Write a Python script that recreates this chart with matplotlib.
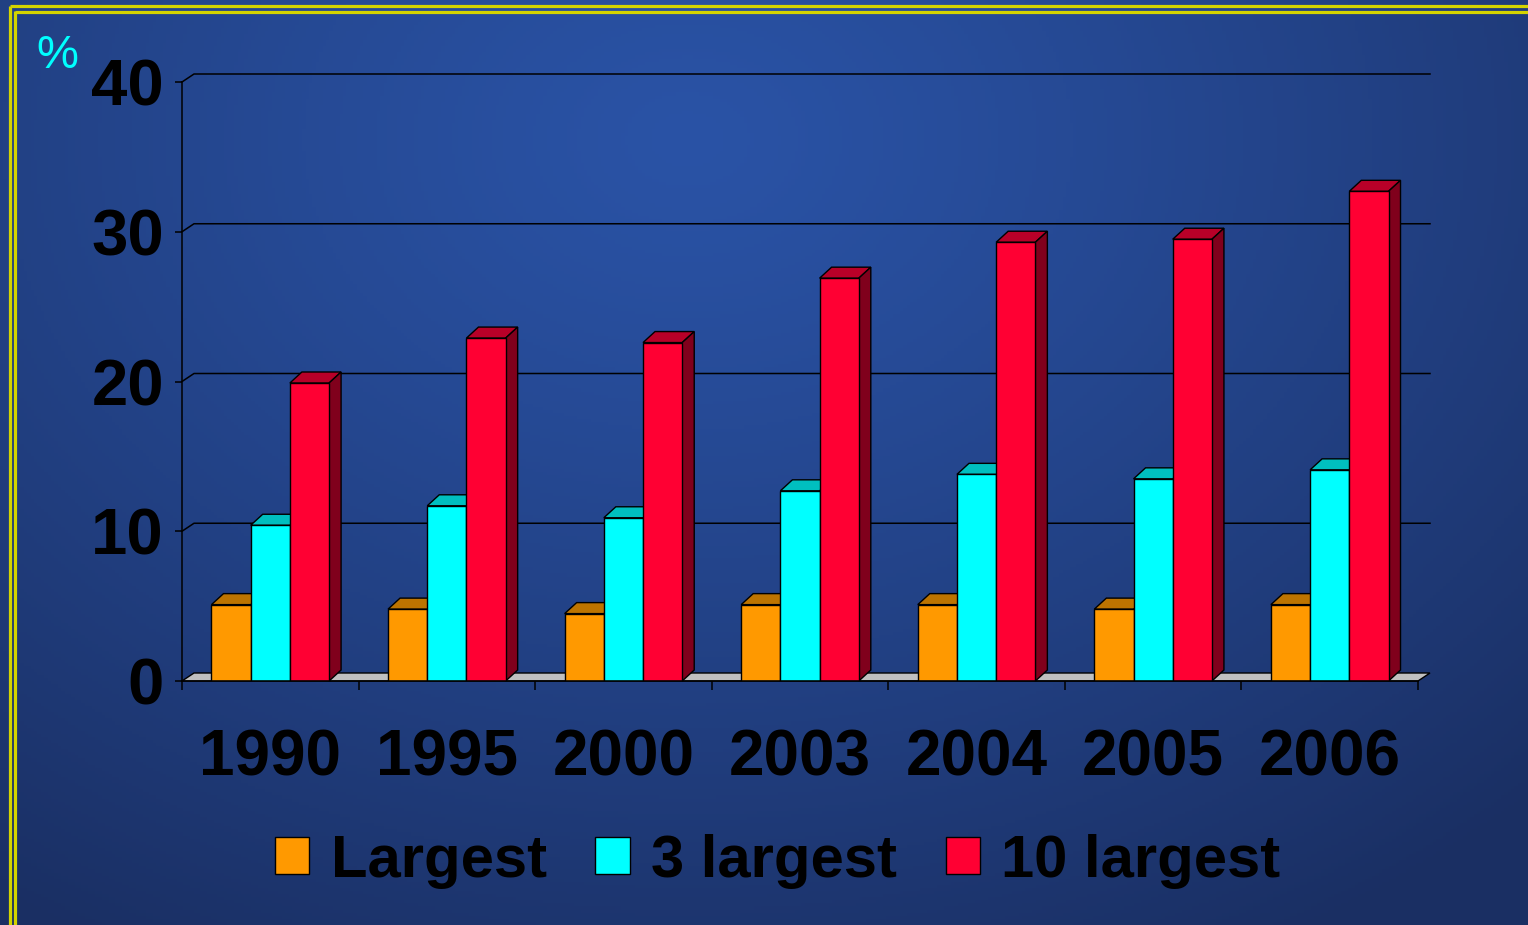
import numpy as np
import matplotlib
matplotlib.use('Agg')
import matplotlib.pyplot as plt
from matplotlib.patches import Polygon, Patch
from matplotlib.lines import Line2D

# ---------------- data ----------------
years = ['1990', '1995', '2000', '2003', '2004', '2005', '2006']
largest = [5.1, 4.8, 4.5, 5.1, 5.1, 4.8, 5.1]
largest3 = [10.4, 11.7, 10.9, 12.7, 13.8, 13.5, 14.1]
largest10 = [19.9, 22.9, 22.6, 26.9, 29.3, 29.5, 32.7]
series_names = ['Largest', '3 largest', '10 largest']
yticks = [0, 10, 20, 30, 40]
unit_label = '%'

# ---------------- style ----------------
front_colors = ['#FF9900', '#00FFFF', '#FF0033']
top_colors = ['#BD7400', '#00BFBF', '#B80028']
side_color = '#80001C'
floor_color = '#C0C0C0'
border_color = '#D4D400'
num_font = ['Liberation Sans', 'DejaVu Sans']
leg_font = ['Liberation Sans', 'DejaVu Sans']

W, H = 1528, 925
fig = plt.figure(figsize=(W / 100, H / 100), dpi=100)

# background gradient
bg = fig.add_axes([0, 0, 1, 1], zorder=-10)
yy, xx = np.mgrid[0:1:300j, 0:1:450j]
d = np.sqrt(((xx - 0.45) / 0.8) ** 2 + ((yy - 0.15) / 1.0) ** 2)
d = np.clip(d, 0, 1) ** 1.2
c0 = np.array([0x2A, 0x53, 0xA6]) / 255
c1 = np.array([0x1A, 0x2F, 0x63]) / 255
img = c0[None, None, :] * (1 - d[..., None]) + c1[None, None, :] * d[..., None]
bg.imshow(img, extent=[0, 1, 0, 1], origin='upper', aspect='auto')
bg.axis('off')

# yellow double border (top and left)
for xp in (9.5, 14.5):
    fig.add_artist(Line2D([xp / W, xp / W], [0, 1 - (xp - 3.5) / H],
                          transform=fig.transFigure, color=border_color, lw=2.3,
                          solid_capstyle='butt'))
for yp in (6.0, 11.5):
    fig.add_artist(Line2D([(yp + 3.5) / W, 1], [1 - yp / H, 1 - yp / H],
                          transform=fig.transFigure, color=border_color, lw=2.3,
                          solid_capstyle='butt'))

# main axes = front plane
L, R, T, B = 182, 1418, 82, 681
ax = fig.add_axes([L / W, (H - B) / H, (R - L) / W, (B - T) / H])
ax.patch.set_alpha(0)
n = len(years)
ax.set_xlim(0, n)
ax.set_ylim(yticks[0], yticks[-1])

px_x = (R - L) / n
px_y = (B - T) / (yticks[-1] - yticks[0])
dxw, dyw = 12 / px_x, 8 / px_y      # wall depth
dxb, dyb = 12 / px_x, 11 / px_y     # bar depth

# back wall gridlines
for v in yticks[1:]:
    ax.plot([0, dxw, n + dxw], [v, v + dyw, v + dyw], color='black', lw=1.1,
            clip_on=False, zorder=1)
# floor
ax.add_patch(Polygon([(0, 0), (n, 0), (n + dxw, dyw), (dxw, dyw)], closed=True,
                     fc=floor_color, ec='black', lw=1.0, clip_on=False, zorder=1.5))

# bars
w = 0.222
offsets = [-w, 0, w]
for j, vals in enumerate([largest, largest3, largest10]):
    x = np.arange(n) + 0.5 + offsets[j]
    bars = ax.bar(x, vals, width=w, color=front_colors[j], edgecolor='black',
                  lw=1.0, zorder=3, label=series_names[j])
    for rect in bars:
        x0 = rect.get_x()
        x1 = x0 + rect.get_width()
        h = rect.get_height()
        ax.add_patch(Polygon([(x0, h), (x1, h), (x1 + dxb, h + dyb), (x0 + dxb, h + dyb)],
                             closed=True, fc=top_colors[j], ec='black', lw=1.0,
                             clip_on=False, zorder=2))
        if j == 2:
            ax.add_patch(Polygon([(x1, 0), (x1 + dxb, dyb), (x1 + dxb, h + dyb), (x1, h)],
                                 closed=True, fc=side_color, ec='black', lw=1.0,
                                 clip_on=False, zorder=2))

# spines and ticks
for s in ('top', 'right'):
    ax.spines[s].set_visible(False)
for s in ('left', 'bottom'):
    ax.spines[s].set_color('black')
    ax.spines[s].set_linewidth(1.1)
    ax.spines[s].set_zorder(4)

ax.set_yticks(yticks)
ax.set_yticklabels([str(v) for v in yticks])
ax.tick_params(axis='y', length=5, width=1.1, pad=8, colors='black')
ax.set_xticks(np.arange(n + 1))
ax.set_xticklabels([])
ax.tick_params(axis='x', which='major', length=6.5, width=1.1, colors='black')
ax.set_xticks(np.arange(n) + 0.5, minor=True)
ax.set_xticklabels(years, minor=True)
ax.tick_params(axis='x', which='minor', length=0, pad=34)

for lbl in ax.get_yticklabels():
    lbl.set_fontfamily(num_font)
    lbl.set_fontweight('bold')
    lbl.set_fontsize(47)
    lbl.set_color('black')
for lbl in ax.get_xticklabels(minor=True):
    lbl.set_fontfamily(num_font)
    lbl.set_fontweight('bold')
    lbl.set_fontsize(46)
    lbl.set_color('black')

# legend
handles = [Patch(fc=c, ec='black', lw=1.0) for c in front_colors]
fig.legend(handles, series_names, loc='center', bbox_to_anchor=(0.509, 0.069),
           ncol=3, frameon=False,
           prop=dict(family=leg_font, weight='bold', size=43),
           handlelength=0.57, handleheight=0.57, handletextpad=0.36,
           columnspacing=0.82, labelcolor='black', borderpad=0, borderaxespad=0)

# unit label
fig.text(57 / W, 1 - 56 / H, unit_label, color='#00FFFF', fontsize=34,
         ha='center', va='center', family=leg_font)

fig.savefig('out.png', dpi=100)
